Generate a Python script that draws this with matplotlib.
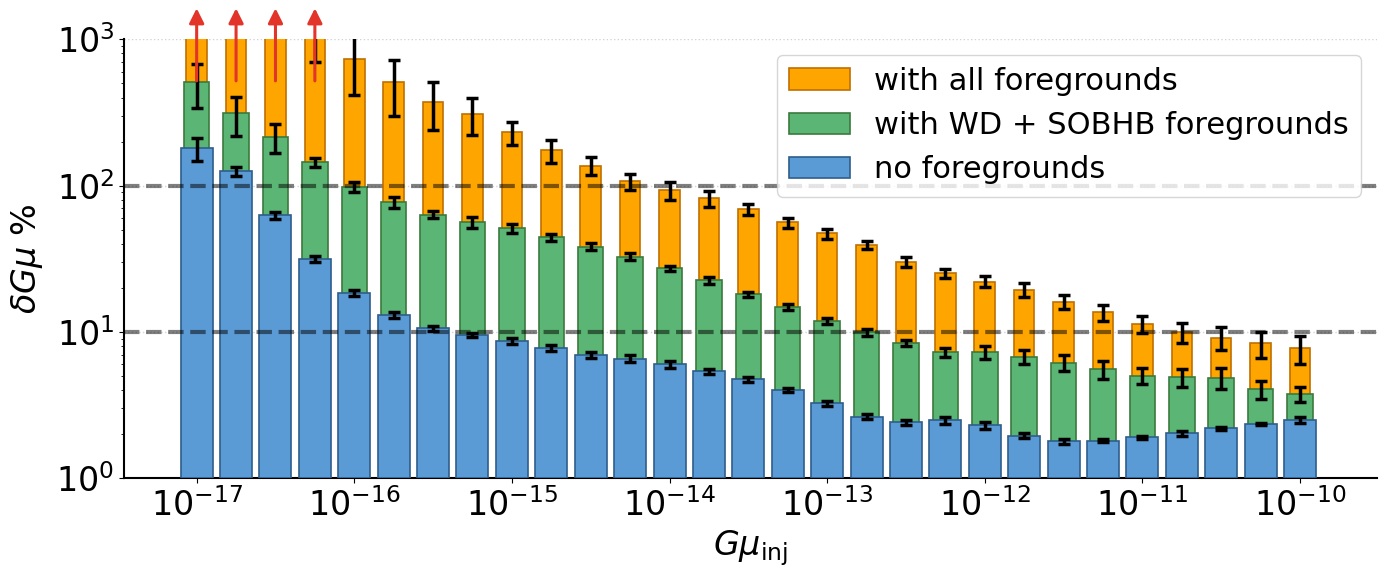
import numpy as np
import matplotlib
matplotlib.use("Agg")
import matplotlib.pyplot as plt
from matplotlib.ticker import NullLocator

# injected G mu: 4 points per decade from 1e-17 to 1e-10
log_gmu = [-17.0, -16.75, -16.5, -16.25, -16.0, -15.75, -15.5, -15.25, -15.0, -14.75,
           -14.5, -14.25, -14.0, -13.75, -13.5, -13.25, -13.0, -12.75, -12.5, -12.25,
           -12.0, -11.75, -11.5, -11.25, -11.0, -10.75, -10.5, -10.25, -10.0]

all_fg = [3000, 2000, 1500, 1100, 736, 510, 374, 311, 231, 174,
          137, 107, 92.8, 81.7, 69, 56, 47.2, 39.3, 30.2, 25.1,
          22.1, 19.4, 16.1, 13.6, 11.4, 9.95, 9.16, 8.36, 7.75]
all_fg_err = [1000, 700, 400, 400, 318, 210, 133, 89, 41, 31,
              19.5, 14, 13, 10, 5.6, 4.4, 3.7, 2.5, 2.4, 1.9,
              1.9, 2.1, 1.7, 1.8, 1.5, 1.5, 1.6, 1.7, 1.7]

wd_sobhb = [507, 313, 214, 144, 97.7, 76.9, 63.5, 56.2, 51, 44.4,
            38.3, 32.7, 27.2, 22.5, 18.1, 14.8, 11.9, 9.95, 8.36, 7.27,
            7.27, 6.78, 6.18, 5.56, 5.04, 4.89, 4.86, 4.06, 3.79]
wd_sobhb_err = [168, 93, 48, 10.5, 7.6, 6.5, 3.7, 4.8, 3.6, 2.3,
                2.0, 1.7, 1.2, 1.1, 0.75, 0.75, 0.55, 0.5, 0.4, 0.56,
                0.77, 0.7, 0.75, 0.77, 0.65, 0.7, 0.8, 0.55, 0.45]

no_fg = [180, 125, 62.9, 31.5, 18.6, 13.0, 10.6, 9.5, 8.65, 7.75,
         6.93, 6.58, 6.0, 5.37, 4.75, 4.0, 3.26, 2.64, 2.41, 2.49,
         2.30, 1.96, 1.79, 1.81, 1.91, 2.03, 2.19, 2.34, 2.52]
no_fg_err = [33, 8.5, 3.6, 1.6, 0.9, 0.6, 0.45, 0.3, 0.4, 0.37,
             0.33, 0.33, 0.3, 0.2, 0.2, 0.14, 0.12, 0.09, 0.11, 0.13,
             0.12, 0.08, 0.07, 0.05, 0.05, 0.09, 0.05, 0.04, 0.12]

n_arrows = 4  # bars whose value runs off the top

x = 10 ** np.array(log_gmu)

fig = plt.figure(figsize=(13.87, 5.79), dpi=100)
ax = fig.add_axes([0.0894, 0.1739, 0.9032, 0.7582])


def log_bar(values, errs, half, face, edge, z, label):
    values = np.array(values)
    left = x * 10 ** (-half)
    width = x * (10 ** half - 10 ** (-half))
    ax.bar(left, values - 1, width=width, align="edge", bottom=1, color=face,
           edgecolor=edge, linewidth=1.2, zorder=z, label=label)
    ax.errorbar(x, values, yerr=errs, fmt="none", ecolor="black", elinewidth=2.5,
                capsize=4, capthick=2.5, zorder=z + 0.5)


log_bar(all_fg, all_fg_err, 0.065, "#FFA500", "#C07000", 2, "with all foregrounds")
log_bar(wd_sobhb, wd_sobhb_err, 0.081, "#5BB574", "#3B7A3E", 3, "with WD + SOBHB foregrounds")
log_bar(no_fg, no_fg_err, 0.1015, "#5B9BD5", "#2E5E8C", 4, "no foregrounds")

ax.axhline(100, color="black", alpha=0.5, ls="--", lw=3, zorder=6)
ax.axhline(10, color="black", alpha=0.5, ls="--", lw=3, zorder=6)

for xi in x[:n_arrows]:
    ax.annotate("", xy=(xi, 1630), xytext=(xi, 520), annotation_clip=False,
                arrowprops=dict(arrowstyle="-|>", color="#E3342A", lw=2.2,
                                mutation_scale=22, shrinkA=0, shrinkB=0),
                zorder=8)

ax.set_xscale("log")
ax.set_yscale("log")
ax.set_ylim(1, 1000)
ax.set_xlim(10 ** -17.461, 10 ** -9.513)
ax.xaxis.set_minor_locator(NullLocator())
ax.grid(axis="y", which="major", ls=":", color="lightgray", lw=1, zorder=0)
ax.set_axisbelow(True)

ax.spines["top"].set_visible(False)
ax.spines["right"].set_visible(False)
ax.spines["left"].set_linewidth(1.5)
ax.spines["bottom"].set_linewidth(1.5)
ax.tick_params(labelsize=24)

ax.set_xlabel(r"$G\mu_{\rm inj}$", fontsize=24)
ax.set_ylabel(r"$\delta G\mu$ %", fontsize=24, labelpad=8)

leg = ax.legend(loc="upper right", fontsize=22, handlelength=2.0)
leg.set_zorder(10)

fig.savefig("out.png", dpi=100)
